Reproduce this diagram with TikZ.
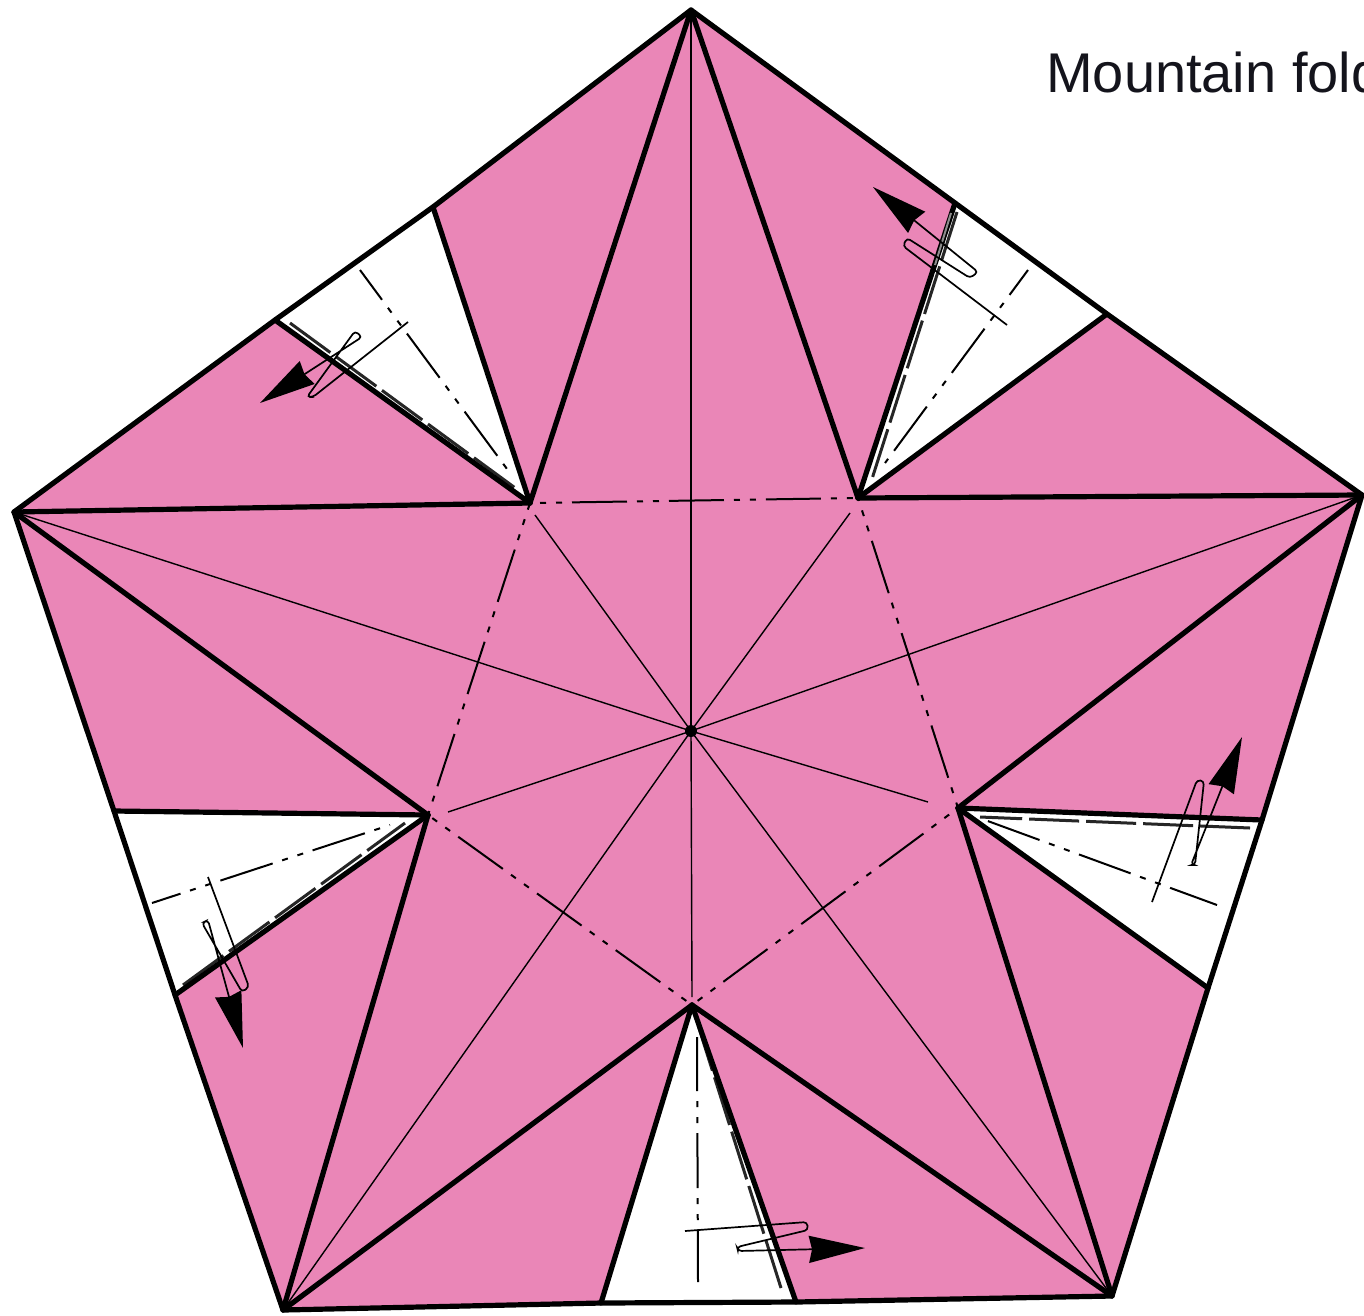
\documentclass[tikz,border=0pt]{standalone}
\usepackage{fontspec}
\setmainfont{Liberation Sans}
\usetikzlibrary{arrows.meta}
\definecolor{paperpink}{HTML}{EA86B7}
\definecolor{inkgrey}{HTML}{14141C}
\tikzset{
  edge/.style={line width=5.2,line join=round,line cap=round},
  crease/.style={line width=1.4},
  mountain/.style={line width=2,dash pattern=on 55 off 10 on 6 off 10 on 6 off 10},
  flap/.style={line width=3,black!85,dash pattern=on 50 off 7},
  twist/.style={line width=1.7,rounded corners=3.5,-{Stealth[length=56,width=27,inset=3]}}
}
\begin{document}
\begin{tikzpicture}[x=1pt,y=-1pt]
\useasboundingbox (0,0) rectangle (1364,1315);
% ---------- corners of the paper and of the inner star ----------
\coordinate (top) at (691,10);
\coordinate (right) at (1362,495);
\coordinate (br) at (1112,1296);
\coordinate (bl) at (283,1310);
\coordinate (left) at (14,512);
\coordinate (o) at (691,731);
\coordinate (sa) at (530,503);
\coordinate (sb) at (858,498);
\coordinate (sc) at (958,808);
\coordinate (sd) at (692,1005);
\coordinate (se) at (428,815);
% ---------- white flaps, ends on the outline ----------
\coordinate (ua) at (275,320);
\coordinate (ub) at (433,207);
\coordinate (uc) at (955,203);
\coordinate (ud) at (1107,314);
\coordinate (ra) at (1262,820);
\coordinate (rb) at (1208,988);
\coordinate (da) at (796,1302);
\coordinate (db) at (601,1303);
\coordinate (la) at (175,995);
\coordinate (lb) at (114,811);
% ---------- sheet ----------
\fill[paperpink] (top) -- (uc) -- (ud) -- (right) -- (ra) -- (rb) -- (br) -- (da) -- (db) -- (bl) -- (la) -- (lb) -- (left) -- (ua) -- (ub) -- cycle;
\foreach \p/\q/\r in {sa/ua/ub, sb/uc/ud, sc/ra/rb, sd/da/db, se/la/lb}{
  \fill[white] (\p) -- (\q) -- (\r) -- cycle;}
% ---------- thin creases through the centre ----------
\foreach \p in {top,right,br,bl,left}{
  \draw[crease] (o) -- (\p);}
\draw[crease] (o) -- (535,515);
\draw[crease] (o) -- (850,513);
\draw[crease] (o) -- (928,802);
\draw[crease] (o) -- (692,997);
\draw[crease] (o) -- (448,812);
\fill (o) circle (6);
% ---------- mountain folds, inner pentagon ----------
\draw[mountain,dash phase=55] (sa) -- (sb);
\draw[mountain,dash phase=52] (sb) -- (sc);
\draw[mountain,dash phase=58] (sd) -- (sc);
\draw[mountain,dash phase=58] (sd) -- (se);
\draw[mountain,dash phase=48] (sa) -- (se);
% ---------- mountain folds inside the flaps ----------
\draw[mountain,dash phase=18] (360,270) -- (510,473);
\draw[mountain,dash phase=24] (1028,270) -- (885,463);
\draw[mountain,dash phase=5] (1217,905) -- (985,820);
\draw[mountain,dash phase=3] (698,1282) -- (697,1037);
\draw[mountain,dash phase=25] (152,903) -- (390,825);
% ---------- dashes beside the flap edges ----------
\draw[flap] (290,323) -- (518,490);
\draw[flap] (957,212) -- (871,482);
\draw[flap] (1250,828) -- (980,817);
\draw[flap] (781,1288) -- (698,1025);
\draw[flap] (183,985) -- (405,823);
% ---------- outline and folded edges ----------
\draw[edge] (top) -- (uc) -- (ud) -- (right) -- (ra) -- (rb) -- (br) -- (da) -- (db) -- (bl) -- (la) -- (lb) -- (left) -- (ua) -- (ub) -- cycle;
\foreach \p/\q in {top/sa, top/sb, left/sa, right/sb, left/se, right/sc, bl/se, br/sc, bl/sd, br/sd,
  sa/ua, sa/ub, sb/uc, sb/ud, sc/ra, sc/rb, sd/da, sd/db, se/la, se/lb}{
  \draw[edge] (\p) -- (\q);}
% worn stretch of the upper right edge
\draw[line width=2,black!45] (935,265) -- (951,213);
% ---------- twisted arrows: tail, two bends, head ----------
\draw[twist] (408,322) -- (313,397) -- (307,397) -- (355,331) -- (362,337) -- (260,403);
\draw[twist] (1007,325) -- (903,246) -- (907,238) -- (970,278) -- (978,272) -- (873,187);
\draw[twist] (1152,902) -- (1197,780) -- (1204,781) -- (1195,865) -- (1191,865) -- (1242,737);
\draw[twist] (685,1231) -- (807,1222) -- (808,1230) -- (737,1247) -- (738,1251) -- (865,1248);
\draw[twist] (208,877) -- (249,987) -- (242,992) -- (202,923) -- (208,920) -- (243,1048);
\node[anchor=base west,inner sep=0,text=inkgrey,font=\fontsize{56}{56}\selectfont] (label) at (1046,92) {Mountain fold};
\end{tikzpicture}
\end{document}
